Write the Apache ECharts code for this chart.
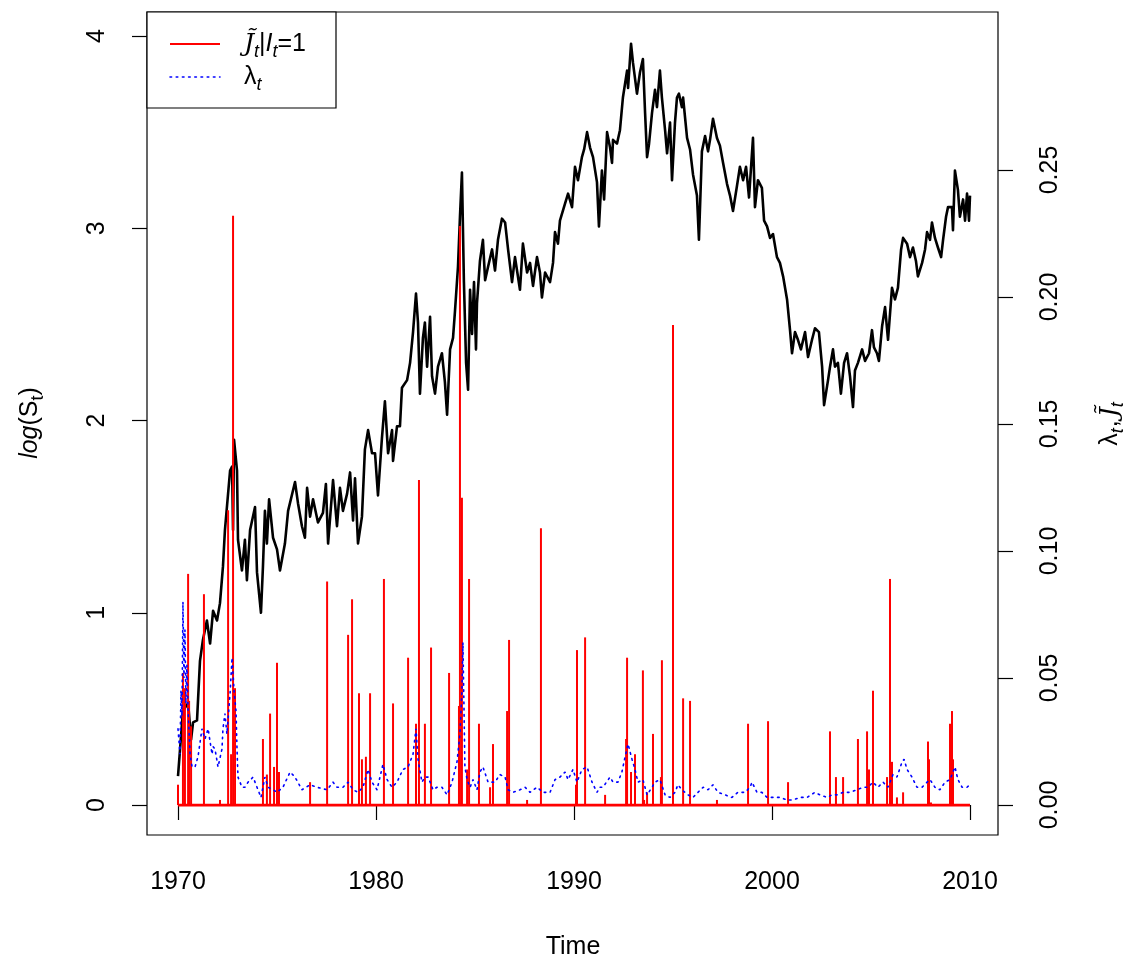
<!DOCTYPE html>
<html>
<head>
<meta charset="utf-8">
<script src="https://cdn.jsdelivr.net/npm/echarts@6/dist/echarts.min.js"></script>
<style>
html,body{margin:0;padding:0;background:#fff;}
#chart{width:1132px;height:964px;}
</style>
</head>
<body>
<div id="chart"></div>
<script>
// ---------- data ----------
const xTicks = [1970, 1980, 1990, 2000, 2010];
const leftTicks = [0, 1, 2, 3, 4];
const rightTicks = [0, 0.05, 0.10, 0.15, 0.20, 0.25];
const zeroJumpSpan = [1970.0, 2010.0];

// log(S_t): [year, value]
const logSPoints = [[1970.00,0.15],[1970.25,0.49],[1970.51,0.53],[1970.66,0.34],[1970.76,0.43],[1970.96,0.44],[1971.11,0.75],[1971.26,0.86],[1971.46,0.96],[1971.62,0.84],[1971.77,1.01],[1971.97,0.96],[1972.12,1.05],[1972.27,1.24],[1972.37,1.43],[1972.63,1.74],[1972.73,1.76],[1972.78,1.43],[1972.83,1.90],[1972.98,1.74],[1973.03,1.38],[1973.23,1.22],[1973.38,1.38],[1973.48,1.17],[1973.64,1.43],[1973.89,1.55],[1973.99,1.21],[1974.19,1.00],[1974.29,1.24],[1974.39,1.53],[1974.49,1.36],[1974.60,1.59],[1974.80,1.39],[1975.00,1.33],[1975.15,1.22],[1975.40,1.36],[1975.56,1.53],[1975.91,1.68],[1976.06,1.57],[1976.26,1.45],[1976.41,1.39],[1976.52,1.65],[1976.67,1.50],[1976.82,1.59],[1977.07,1.47],[1977.32,1.52],[1977.47,1.67],[1977.58,1.36],[1977.83,1.69],[1978.03,1.45],[1978.18,1.65],[1978.33,1.53],[1978.54,1.62],[1978.69,1.73],[1978.84,1.48],[1978.94,1.70],[1979.09,1.36],[1979.29,1.50],[1979.44,1.85],[1979.60,1.95],[1979.80,1.83],[1979.95,1.83],[1980.10,1.61],[1980.30,1.91],[1980.45,2.10],[1980.61,1.83],[1980.81,1.95],[1980.86,1.79],[1981.06,1.97],[1981.21,1.97],[1981.31,2.17],[1981.57,2.21],[1981.72,2.30],[1981.87,2.46],[1982.02,2.66],[1982.12,2.51],[1982.22,2.14],[1982.37,2.43],[1982.47,2.51],[1982.58,2.28],[1982.73,2.54],[1982.83,2.23],[1982.98,2.14],[1983.13,2.28],[1983.33,2.35],[1983.48,2.20],[1983.59,2.03],[1983.74,2.37],[1983.89,2.43],[1983.99,2.57],[1984.14,2.80],[1984.24,3.06],[1984.34,3.29],[1984.44,2.72],[1984.55,2.30],[1984.65,2.16],[1984.75,2.68],[1984.85,2.45],[1984.95,2.72],[1985.05,2.37],[1985.10,2.61],[1985.25,2.83],[1985.40,2.94],[1985.51,2.73],[1985.66,2.80],[1985.86,2.89],[1986.01,2.78],[1986.16,2.94],[1986.36,3.05],[1986.52,3.03],[1986.67,2.89],[1986.87,2.72],[1987.02,2.85],[1987.27,2.68],[1987.42,2.92],[1987.63,2.77],[1987.78,2.82],[1987.93,2.70],[1988.13,2.85],[1988.28,2.77],[1988.38,2.64],[1988.54,2.77],[1988.79,2.72],[1988.94,2.82],[1989.04,2.98],[1989.19,2.92],[1989.29,3.04],[1989.55,3.13],[1989.70,3.18],[1989.90,3.11],[1990.05,3.32],[1990.20,3.25],[1990.40,3.37],[1990.51,3.41],[1990.66,3.50],[1990.81,3.42],[1990.96,3.37],[1991.16,3.24],[1991.26,3.01],[1991.41,3.30],[1991.52,3.15],[1991.67,3.50],[1991.82,3.42],[1991.92,3.34],[1991.97,3.46],[1992.17,3.44],[1992.32,3.51],[1992.47,3.68],[1992.68,3.82],[1992.73,3.73],[1992.88,3.96],[1992.98,3.86],[1993.18,3.70],[1993.33,3.81],[1993.48,3.88],[1993.59,3.60],[1993.69,3.37],[1993.79,3.44],[1993.94,3.60],[1994.09,3.72],[1994.19,3.63],[1994.34,3.82],[1994.44,3.68],[1994.60,3.51],[1994.70,3.39],[1994.85,3.55],[1994.95,3.25],[1995.10,3.55],[1995.20,3.68],[1995.30,3.70],[1995.45,3.63],[1995.51,3.68],[1995.71,3.47],[1995.86,3.41],[1996.01,3.28],[1996.21,3.17],[1996.31,2.94],[1996.46,3.40],[1996.62,3.48],[1996.77,3.40],[1996.87,3.46],[1997.02,3.57],[1997.22,3.47],[1997.37,3.43],[1997.53,3.34],[1997.73,3.23],[1997.88,3.17],[1998.03,3.09],[1998.23,3.22],[1998.38,3.32],[1998.54,3.25],[1998.69,3.32],[1998.84,3.16],[1999.04,3.47],[1999.14,3.11],[1999.29,3.25],[1999.49,3.21],[1999.60,3.04],[1999.75,3.01],[1999.90,2.95],[2000.05,2.97],[2000.25,2.85],[2000.40,2.82],[2000.56,2.75],[2000.76,2.63],[2000.91,2.47],[2001.01,2.35],[2001.16,2.46],[2001.31,2.42],[2001.46,2.37],[2001.67,2.46],[2001.82,2.33],[2002.02,2.42],[2002.17,2.48],[2002.37,2.46],[2002.53,2.28],[2002.63,2.08],[2002.83,2.21],[2002.93,2.28],[2003.08,2.37],[2003.18,2.28],[2003.33,2.30],[2003.48,2.14],[2003.64,2.30],[2003.79,2.35],[2003.94,2.23],[2004.09,2.07],[2004.19,2.26],[2004.34,2.30],[2004.55,2.37],[2004.70,2.31],[2004.90,2.35],[2005.05,2.47],[2005.15,2.38],[2005.30,2.35],[2005.40,2.31],[2005.56,2.49],[2005.71,2.59],[2005.86,2.42],[2006.06,2.69],[2006.21,2.63],[2006.36,2.69],[2006.52,2.89],[2006.62,2.95],[2006.82,2.92],[2006.97,2.85],[2007.12,2.90],[2007.27,2.83],[2007.37,2.75],[2007.58,2.82],[2007.73,2.89],[2007.83,2.98],[2007.98,2.94],[2008.08,3.03],[2008.23,2.95],[2008.38,2.90],[2008.54,2.85],[2008.64,2.94],[2008.79,3.06],[2008.89,3.11],[2009.09,3.11],[2009.14,2.99],[2009.24,3.30],[2009.39,3.20],[2009.49,3.06],[2009.65,3.15],[2009.75,3.04],[2009.85,3.18],[2009.95,3.04],[2010.00,3.17]];

// lambda_t: [year, value]
const lambdaPoints = [[1970.00,0.030],[1970.10,0.020],[1970.15,0.045],[1970.20,0.035],[1970.25,0.080],[1970.30,0.050],[1970.35,0.069],[1970.40,0.040],[1970.45,0.055],[1970.51,0.037],[1970.61,0.020],[1970.71,0.015],[1970.86,0.015],[1971.01,0.019],[1971.21,0.030],[1971.36,0.026],[1971.52,0.030],[1971.72,0.020],[1971.77,0.023],[1971.87,0.022],[1972.02,0.015],[1972.22,0.022],[1972.27,0.030],[1972.37,0.036],[1972.47,0.028],[1972.63,0.044],[1972.73,0.058],[1972.83,0.045],[1972.93,0.037],[1972.98,0.022],[1973.03,0.011],[1973.23,0.007],[1973.38,0.007],[1973.54,0.009],[1973.79,0.011],[1973.99,0.007],[1974.19,0.003],[1974.39,0.011],[1974.55,0.007],[1974.80,0.006],[1975.00,0.005],[1975.30,0.007],[1975.66,0.013],[1975.91,0.011],[1976.26,0.006],[1976.67,0.008],[1977.02,0.007],[1977.53,0.006],[1977.83,0.009],[1978.03,0.007],[1978.33,0.007],[1978.59,0.009],[1978.84,0.006],[1979.09,0.005],[1979.34,0.007],[1979.60,0.014],[1979.80,0.009],[1980.05,0.006],[1980.35,0.016],[1980.56,0.010],[1980.81,0.007],[1981.06,0.009],[1981.36,0.014],[1981.62,0.015],[1981.87,0.020],[1982.02,0.030],[1982.12,0.018],[1982.32,0.009],[1982.47,0.011],[1982.63,0.011],[1982.88,0.006],[1983.08,0.007],[1983.33,0.007],[1983.59,0.004],[1983.84,0.009],[1984.09,0.017],[1984.24,0.028],[1984.34,0.045],[1984.39,0.064],[1984.44,0.040],[1984.49,0.015],[1984.60,0.010],[1984.75,0.007],[1984.90,0.010],[1985.10,0.006],[1985.25,0.013],[1985.40,0.015],[1985.66,0.009],[1986.01,0.009],[1986.26,0.012],[1986.52,0.011],[1986.67,0.006],[1986.92,0.005],[1987.27,0.006],[1987.53,0.007],[1987.78,0.005],[1988.13,0.007],[1988.43,0.005],[1988.79,0.005],[1989.04,0.010],[1989.29,0.011],[1989.55,0.013],[1989.70,0.010],[1989.95,0.014],[1990.15,0.009],[1990.40,0.014],[1990.66,0.015],[1990.91,0.009],[1991.16,0.005],[1991.31,0.007],[1991.46,0.007],[1991.82,0.011],[1991.97,0.009],[1992.22,0.009],[1992.42,0.013],[1992.58,0.019],[1992.73,0.024],[1992.93,0.018],[1993.08,0.014],[1993.23,0.009],[1993.48,0.010],[1993.69,0.004],[1993.94,0.007],[1994.09,0.009],[1994.34,0.010],[1994.60,0.004],[1994.85,0.003],[1995.10,0.005],[1995.25,0.008],[1995.45,0.006],[1995.76,0.004],[1996.01,0.003],[1996.26,0.005],[1996.52,0.007],[1996.77,0.006],[1997.02,0.008],[1997.27,0.005],[1997.63,0.004],[1997.98,0.003],[1998.28,0.005],[1998.64,0.005],[1998.89,0.007],[1998.99,0.009],[1999.24,0.005],[1999.49,0.005],[1999.75,0.003],[2000.05,0.003],[2000.40,0.003],[2000.76,0.002],[2001.06,0.002],[2001.41,0.003],[2001.77,0.003],[2002.17,0.005],[2002.42,0.004],[2002.78,0.003],[2003.03,0.004],[2003.28,0.004],[2003.59,0.005],[2003.94,0.005],[2004.29,0.006],[2004.60,0.007],[2004.85,0.007],[2005.10,0.009],[2005.35,0.007],[2005.61,0.009],[2005.86,0.007],[2006.11,0.012],[2006.31,0.011],[2006.57,0.017],[2006.67,0.018],[2006.82,0.014],[2007.07,0.011],[2007.32,0.007],[2007.58,0.007],[2007.83,0.009],[2007.98,0.010],[2008.23,0.007],[2008.48,0.006],[2008.74,0.009],[2008.99,0.010],[2009.14,0.013],[2009.24,0.015],[2009.39,0.010],[2009.60,0.007],[2009.85,0.007],[2010.00,0.008]];

// jumps J_t | I_t = 1 : [year, value]
const jumpPoints = [[1970.00,0.008],[1970.25,0.052],[1970.35,0.046],[1970.51,0.091],[1970.56,0.041],[1970.66,0.031],[1971.31,0.083],[1972.12,0.002],[1972.53,0.116],[1972.68,0.020],[1972.78,0.232],[1972.88,0.046],[1974.29,0.026],[1974.49,0.012],[1974.65,0.036],[1974.85,0.015],[1975.00,0.056],[1975.10,0.013],[1976.67,0.009],[1977.53,0.088],[1978.59,0.067],[1978.79,0.081],[1979.14,0.044],[1979.29,0.018],[1979.49,0.019],[1979.70,0.044],[1980.40,0.089],[1980.86,0.040],[1981.62,0.058],[1982.02,0.032],[1982.17,0.128],[1982.47,0.032],[1982.78,0.062],[1983.69,0.052],[1984.19,0.039],[1984.24,0.228],[1984.34,0.121],[1984.60,0.014],[1984.70,0.089],[1985.20,0.032],[1985.76,0.007],[1985.91,0.024],[1986.62,0.037],[1986.72,0.065],[1987.63,0.002],[1988.33,0.109],[1990.10,0.008],[1990.15,0.061],[1990.56,0.066],[1991.57,0.004],[1992.63,0.026],[1992.68,0.058],[1992.88,0.013],[1993.08,0.020],[1993.48,0.053],[1993.54,0.002],[1993.69,0.005],[1993.99,0.028],[1994.39,0.011],[1994.44,0.057],[1995.00,0.189],[1995.51,0.042],[1995.86,0.041],[1997.22,0.002],[1998.79,0.032],[1999.80,0.033],[2000.81,0.009],[2002.93,0.029],[2003.23,0.011],[2003.59,0.011],[2004.34,0.026],[2004.80,0.029],[2004.90,0.014],[2005.10,0.045],[2005.81,0.011],[2005.96,0.089],[2006.06,0.017],[2006.31,0.003],[2006.62,0.005],[2007.88,0.025],[2007.93,0.018],[2008.03,0.001],[2008.99,0.032],[2009.09,0.037],[2009.14,0.018]];

// ---------- chart ----------
const FONT = '"Liberation Sans", Arial, Helvetica, sans-serif';
const SERIF = '"DejaVu Serif", "Liberation Serif", serif';
const chart = echarts.init(document.getElementById('chart'), null, {renderer: 'canvas'});

const subStyle = {fontSize: 18, fontFamily: FONT, fontStyle: 'italic', verticalAlign: 'bottom', lineHeight: 18, fill: '#000'};
const nStyle = {fontSize: 25, fontFamily: FONT, lineHeight: 34, fill: '#000'};
const commaStyle = {fontSize: 25, fontFamily: FONT, lineHeight: 34, fill: '#000', padding: [0, 3, 0, 1]};

chart.setOption({
  animation: false,
  backgroundColor: '#fff',
  grid: {left: 147, right: 134, top: 12, bottom: 129, show: true, borderColor: '#000', borderWidth: 1.2, backgroundColor: 'transparent'},
  xAxis: {
    type: 'value', min: 1968.434, max: 2011.414,
    axisLine: {show: false},
    splitLine: {show: false},
    axisTick: {show: true, inside: false, length: 15, customValues: xTicks, lineStyle: {color: '#000', width: 1.2}},
    axisLabel: {show: true, customValues: xTicks, margin: 35, fontSize: 25, fontFamily: FONT, color: '#000', formatter: v => String(v)}
  },
  yAxis: [{
    type: 'value', position: 'left', min: -0.156, max: 4.125,
    axisLine: {show: false},
    splitLine: {show: false},
    axisTick: {show: true, inside: false, length: 15, customValues: leftTicks, lineStyle: {color: '#000', width: 1.2}},
    axisLabel: {show: true, customValues: leftTicks, rotate: 90, margin: 37, fontSize: 25, fontFamily: FONT, color: '#000', formatter: v => String(v)}
  }, {
    type: 'value', position: 'right', min: -0.0118, max: 0.3122,
    axisLine: {show: false},
    splitLine: {show: false},
    axisTick: {show: true, inside: false, length: 15, customValues: rightTicks, lineStyle: {color: '#000', width: 1.2}},
    axisLabel: {show: true, customValues: rightTicks, rotate: 90, margin: 40, fontSize: 25, fontFamily: FONT, color: '#000', formatter: v => v.toFixed(2)}
  }],
  series: [
    {
      name: 'logS', type: 'line', xAxisIndex: 0, yAxisIndex: 0, data: logSPoints,
      showSymbol: false, symbol: 'none', z: 2,
      lineStyle: {color: '#000', width: 2.6, join: 'round'}
    },
    {
      name: 'zeroJumps', type: 'line', xAxisIndex: 0, yAxisIndex: 1,
      data: zeroJumpSpan.map(x => [x, 0]),
      showSymbol: false, symbol: 'none', z: 3,
      lineStyle: {color: '#ff0000', width: 2.8}
    },
    {
      name: 'jumps', type: 'bar', xAxisIndex: 0, yAxisIndex: 1, data: jumpPoints,
      barWidth: 2, z: 3,
      itemStyle: {color: '#ff0000'}
    },
    {
      name: 'lambda', type: 'line', xAxisIndex: 0, yAxisIndex: 1, data: lambdaPoints,
      showSymbol: false, symbol: 'none', z: 4,
      lineStyle: {color: '#0000ff', width: 1.6, type: [1.6, 4.6], cap: 'round'}
    }
  ],
  graphic: [
    // axis titles
    {type: 'text', x: 573, y: 947, z: 10, style: {text: 'Time', font: '25px ' + FONT, fill: '#000', align: 'center', verticalAlign: 'middle'}},
    {type: 'text', x: 30, y: 423, rotation: Math.PI / 2, z: 10, style: {
      text: '{it|log}{n|(S}{sub|t}{n|)}', align: 'center', verticalAlign: 'middle',
      rich: {it: Object.assign({}, nStyle, {fontStyle: 'italic'}), n: nStyle, sub: Object.assign({}, subStyle, {fontStyle: 'normal'})}
    }},
    {type: 'text', x: 1110, y: 424, rotation: Math.PI / 2, z: 10, style: {
      text: '{n|\u03bb}{sub|t}{c|,}{j|J\u0303}{sub|t}', align: 'center', verticalAlign: 'middle',
      rich: {n: nStyle, c: commaStyle, sub: subStyle, j: Object.assign({}, nStyle, {fontFamily: SERIF, fontStyle: 'italic'})}
    }},
    // legend
    {type: 'rect', z: 20, shape: {x: 147, y: 12, width: 189, height: 96}, style: {fill: '#fff', stroke: '#000', lineWidth: 1.2}},
    {type: 'line', z: 21, shape: {x1: 170, y1: 44, x2: 220, y2: 44}, style: {stroke: '#ff0000', lineWidth: 2}},
    {type: 'line', z: 21, shape: {x1: 170, y1: 77, x2: 220, y2: 77}, style: {stroke: '#0000ff', lineWidth: 1.6, lineDash: [1.6, 4.6], lineCap: 'round'}},
    {type: 'text', z: 21, x: 244, y: 44, style: {
      text: '{j|J\u0303}{sub|t}{n||}{it|I}{sub|t}{n|=1}', align: 'left', verticalAlign: 'middle',
      rich: {n: nStyle, it: Object.assign({}, nStyle, {fontStyle: 'italic'}), sub: subStyle, j: Object.assign({}, nStyle, {fontFamily: SERIF, fontStyle: 'italic'})}
    }},
    {type: 'text', z: 21, x: 244, y: 77, style: {
      text: '{n|\u03bb}{sub|t}', align: 'left', verticalAlign: 'middle',
      rich: {n: nStyle, sub: subStyle}
    }}
  ]
});
</script>
</body>
</html>
